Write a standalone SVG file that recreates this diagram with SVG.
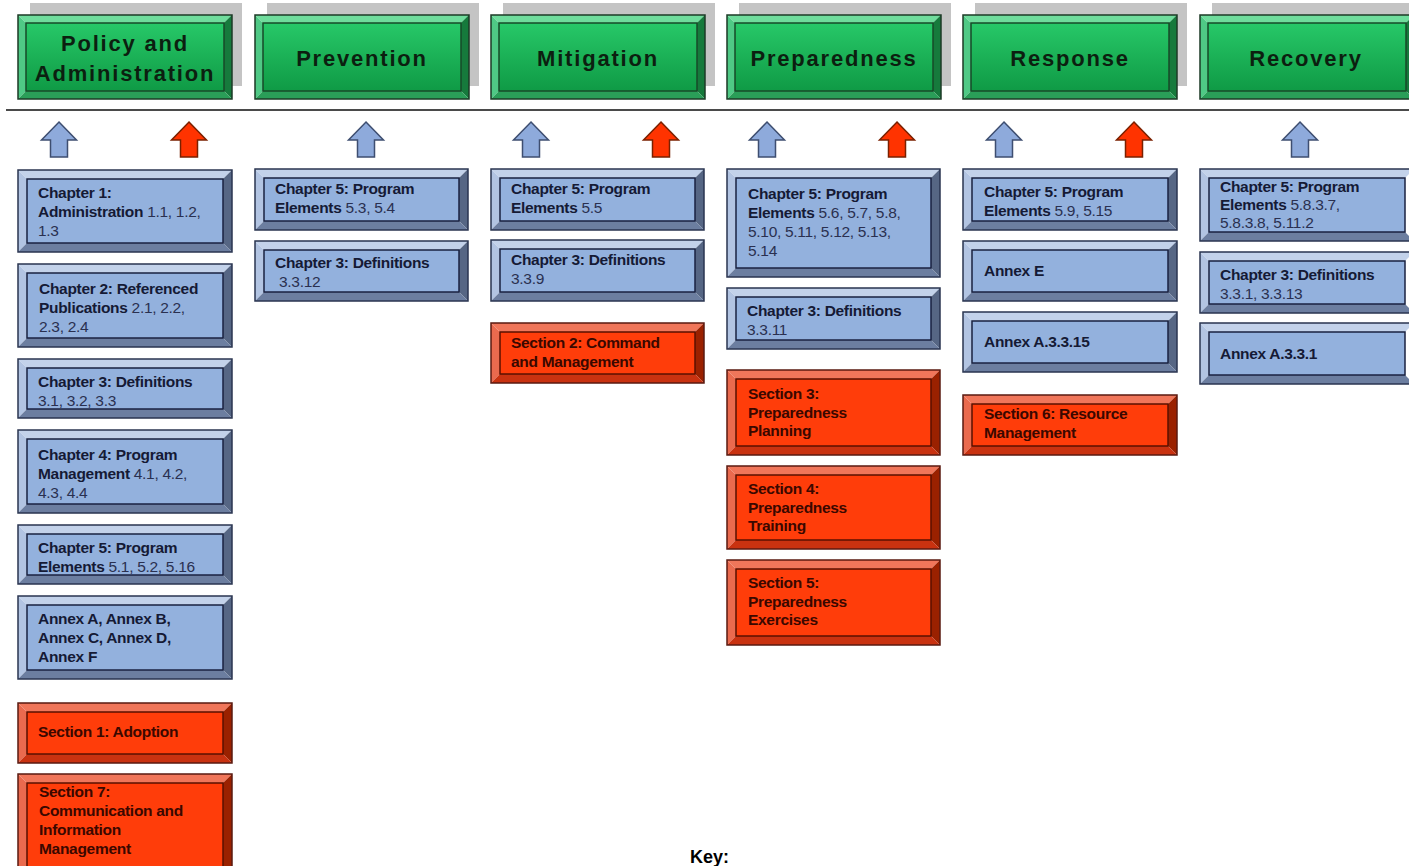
<svg xmlns="http://www.w3.org/2000/svg" width="1409" height="866" viewBox="0 0 1409 866">
<defs>
<linearGradient id="gface" x1="0" y1="0" x2="0" y2="1">
<stop offset="0" stop-color="#27c868"/>
<stop offset="1" stop-color="#0f9a45"/>
</linearGradient>
</defs>
<style>
.shadow{fill:#c4c4c4}
.g-face{fill:url(#gface);stroke:#174a28;stroke-width:1.5}
.g-t{fill:#6fdc9c}.g-l{fill:#4fc985}.g-r{fill:#167a3c}.g-b{fill:#2a9e58}
.g-out{fill:none;stroke:#1c3a26;stroke-width:1.5}
.b-face{fill:#93b1dd;stroke:#1a2240;stroke-width:1.5}
.b-t{fill:#c3d2ea}.b-l{fill:#b2c4e2}.b-r{fill:#566684}.b-b{fill:#6c7ea0}
.b-out{fill:none;stroke:#2a3550;stroke-width:1.5}
.r-face{fill:#ff3d0a;stroke:#5a1000;stroke-width:1.5}
.r-t{fill:#f0765a}.r-l{fill:#ea6a4e}.r-r{fill:#9a2100}.r-b{fill:#c93210}
.r-out{fill:none;stroke:#5a1a10;stroke-width:1.5}
.hdr{font-family:"Liberation Sans",Arial,sans-serif;font-weight:bold;font-size:22px;letter-spacing:1.8px;fill:#0c1f10;text-anchor:middle}
.txt{font-family:"Liberation Sans",Arial,sans-serif;font-weight:bold;font-size:15.5px;fill:#151a35;letter-spacing:-0.3px}
.rtxt{font-family:"Liberation Sans",Arial,sans-serif;font-weight:bold;font-size:15.5px;fill:#3a0800;letter-spacing:-0.3px}
.n{font-weight:normal;fill:#2a3050}
.up-b{fill:#8eaadb;stroke:#3e4e70;stroke-width:1.5}
.up-r{fill:#ff3300;stroke:#7a2000;stroke-width:1.5}
.rule{stroke:#4a4a4a;stroke-width:2}
.key{font-family:"Liberation Sans",Arial,sans-serif;font-weight:bold;font-size:18px;fill:#000}
</style>
<rect width="1409" height="866" fill="#ffffff"/>

<!-- header shadows -->
<g id="shadows">
<rect class="shadow" x="30" y="3" width="212" height="83"/>
<rect class="shadow" x="267" y="3" width="212" height="83"/>
<rect class="shadow" x="503" y="3" width="212" height="83"/>
<rect class="shadow" x="739" y="3" width="212" height="83"/>
<rect class="shadow" x="975" y="3" width="212" height="83"/>
<rect class="shadow" x="1212" y="3" width="212" height="83"/>
</g>

<!-- headers -->
<g id="h-policy">
<polygon class="g-t" points="18,15 232,15 224,23 26,23"/>
<polygon class="g-l" points="18,15 26,23 26,91 18,99"/>
<polygon class="g-r" points="232,15 232,99 224,91 224,23"/>
<polygon class="g-b" points="18,99 232,99 224,91 26,91"/>
<rect class="g-face" x="26" y="23" width="198" height="68"/>
<rect class="g-out" x="18" y="15" width="214" height="84"/>
<text class="hdr" x="125" y="51">Policy and</text>
<text class="hdr" x="125" y="81">Administration</text>
</g>
<g id="h-prevention">
<polygon class="g-t" points="255,15 469,15 461,23 263,23"/>
<polygon class="g-l" points="255,15 263,23 263,91 255,99"/>
<polygon class="g-r" points="469,15 469,99 461,91 461,23"/>
<polygon class="g-b" points="255,99 469,99 461,91 263,91"/>
<rect class="g-face" x="263" y="23" width="198" height="68"/>
<rect class="g-out" x="255" y="15" width="214" height="84"/>
<text class="hdr" x="362" y="66">Prevention</text>
</g>
<g id="h-mitigation">
<polygon class="g-t" points="491,15 705,15 697,23 499,23"/>
<polygon class="g-l" points="491,15 499,23 499,91 491,99"/>
<polygon class="g-r" points="705,15 705,99 697,91 697,23"/>
<polygon class="g-b" points="491,99 705,99 697,91 499,91"/>
<rect class="g-face" x="499" y="23" width="198" height="68"/>
<rect class="g-out" x="491" y="15" width="214" height="84"/>
<text class="hdr" x="598" y="66">Mitigation</text>
</g>
<g id="h-preparedness">
<polygon class="g-t" points="727,15 941,15 933,23 735,23"/>
<polygon class="g-l" points="727,15 735,23 735,91 727,99"/>
<polygon class="g-r" points="941,15 941,99 933,91 933,23"/>
<polygon class="g-b" points="727,99 941,99 933,91 735,91"/>
<rect class="g-face" x="735" y="23" width="198" height="68"/>
<rect class="g-out" x="727" y="15" width="214" height="84"/>
<text class="hdr" x="834" y="66">Preparedness</text>
</g>
<g id="h-response">
<polygon class="g-t" points="963,15 1177,15 1169,23 971,23"/>
<polygon class="g-l" points="963,15 971,23 971,91 963,99"/>
<polygon class="g-r" points="1177,15 1177,99 1169,91 1169,23"/>
<polygon class="g-b" points="963,99 1177,99 1169,91 971,91"/>
<rect class="g-face" x="971" y="23" width="198" height="68"/>
<rect class="g-out" x="963" y="15" width="214" height="84"/>
<text class="hdr" x="1070" y="66">Response</text>
</g>
<g id="h-recovery">
<polygon class="g-t" points="1200,15 1414,15 1406,23 1208,23"/>
<polygon class="g-l" points="1200,15 1208,23 1208,91 1200,99"/>
<polygon class="g-r" points="1414,15 1414,99 1406,91 1406,23"/>
<polygon class="g-b" points="1200,99 1414,99 1406,91 1208,91"/>
<rect class="g-face" x="1208" y="23" width="198" height="68"/>
<rect class="g-out" x="1200" y="15" width="214" height="84"/>
<text class="hdr" x="1306" y="66">Recovery</text>
</g>

<g id="connectors">
<line class="rule" x1="6" y1="110" x2="1409" y2="110"/>
<polygon class="up-b" points="59,122 76.5,140 67.5,140 67.5,157 50.5,157 50.5,140 41.5,140"/>
<polygon class="up-r" points="189,122 206.5,140 197.5,140 197.5,157 180.5,157 180.5,140 171.5,140"/>
<polygon class="up-b" points="366,122 383.5,140 374.5,140 374.5,157 357.5,157 357.5,140 348.5,140"/>
<polygon class="up-b" points="531,122 548.5,140 539.5,140 539.5,157 522.5,157 522.5,140 513.5,140"/>
<polygon class="up-r" points="661,122 678.5,140 669.5,140 669.5,157 652.5,157 652.5,140 643.5,140"/>
<polygon class="up-b" points="767,122 784.5,140 775.5,140 775.5,157 758.5,157 758.5,140 749.5,140"/>
<polygon class="up-r" points="897,122 914.5,140 905.5,140 905.5,157 888.5,157 888.5,140 879.5,140"/>
<polygon class="up-b" points="1004,122 1021.5,140 1012.5,140 1012.5,157 995.5,157 995.5,140 986.5,140"/>
<polygon class="up-r" points="1134,122 1151.5,140 1142.5,140 1142.5,157 1125.5,157 1125.5,140 1116.5,140"/>
<polygon class="up-b" points="1300,122 1317.5,140 1308.5,140 1308.5,157 1291.5,157 1291.5,140 1282.5,140"/>
</g>

<!-- Column 1 -->
<g id="c1-ch1">
<polygon class="b-t" points="18,170 232,170 223,179 27,179"/>
<polygon class="b-l" points="18,170 27,179 27,243 18,252"/>
<polygon class="b-r" points="232,170 232,252 223,243 223,179"/>
<polygon class="b-b" points="18,252 232,252 223,243 27,243"/>
<rect class="b-face" x="27" y="179" width="196" height="64"/>
<rect class="b-out" x="18" y="170" width="214" height="82"/>
<text class="txt" x="38" y="198">Chapter 1:</text>
<text class="txt" x="38" y="217">Administration <tspan class="n">1.1, 1.2,</tspan></text>
<text class="txt n" x="38" y="236">1.3</text>
</g>
<g id="c1-ch2">
<polygon class="b-t" points="18,264 232,264 223,273 27,273"/>
<polygon class="b-l" points="18,264 27,273 27,338 18,347"/>
<polygon class="b-r" points="232,264 232,347 223,338 223,273"/>
<polygon class="b-b" points="18,347 232,347 223,338 27,338"/>
<rect class="b-face" x="27" y="273" width="196" height="65"/>
<rect class="b-out" x="18" y="264" width="214" height="83"/>
<text class="txt" x="39" y="294">Chapter 2: Referenced</text>
<text class="txt" x="39" y="313">Publications <tspan class="n">2.1, 2.2,</tspan></text>
<text class="txt n" x="39" y="332">2.3, 2.4</text>
</g>
<g id="c1-ch3">
<polygon class="b-t" points="18,359 232,359 223,368 27,368"/>
<polygon class="b-l" points="18,359 27,368 27,409 18,418"/>
<polygon class="b-r" points="232,359 232,418 223,409 223,368"/>
<polygon class="b-b" points="18,418 232,418 223,409 27,409"/>
<rect class="b-face" x="27" y="368" width="196" height="41"/>
<rect class="b-out" x="18" y="359" width="214" height="59"/>
<text class="txt" x="38" y="387">Chapter 3: Definitions</text>
<text class="txt n" x="38" y="406">3.1, 3.2, 3.3</text>
</g>
<g id="c1-ch4">
<polygon class="b-t" points="18,430 232,430 223,439 27,439"/>
<polygon class="b-l" points="18,430 27,439 27,504 18,513"/>
<polygon class="b-r" points="232,430 232,513 223,504 223,439"/>
<polygon class="b-b" points="18,513 232,513 223,504 27,504"/>
<rect class="b-face" x="27" y="439" width="196" height="65"/>
<rect class="b-out" x="18" y="430" width="214" height="83"/>
<text class="txt" x="38" y="460">Chapter 4: Program</text>
<text class="txt" x="38" y="479">Management <tspan class="n">4.1, 4.2,</tspan></text>
<text class="txt n" x="38" y="498">4.3, 4.4</text>
</g>
<g id="c1-ch5">
<polygon class="b-t" points="18,525 232,525 223,534 27,534"/>
<polygon class="b-l" points="18,525 27,534 27,575 18,584"/>
<polygon class="b-r" points="232,525 232,584 223,575 223,534"/>
<polygon class="b-b" points="18,584 232,584 223,575 27,575"/>
<rect class="b-face" x="27" y="534" width="196" height="41"/>
<rect class="b-out" x="18" y="525" width="214" height="59"/>
<text class="txt" x="38" y="553">Chapter 5: Program</text>
<text class="txt" x="38" y="572">Elements <tspan class="n">5.1, 5.2, 5.16</tspan></text>
</g>
<g id="c1-annex">
<polygon class="b-t" points="18,596 232,596 223,605 27,605"/>
<polygon class="b-l" points="18,596 27,605 27,670 18,679"/>
<polygon class="b-r" points="232,596 232,679 223,670 223,605"/>
<polygon class="b-b" points="18,679 232,679 223,670 27,670"/>
<rect class="b-face" x="27" y="605" width="196" height="65"/>
<rect class="b-out" x="18" y="596" width="214" height="83"/>
<text class="txt" x="38" y="624">Annex A, Annex B,</text>
<text class="txt" x="38" y="643">Annex C, Annex D,</text>
<text class="txt" x="38" y="662">Annex F</text>
</g>
<g id="c1-sec1">
<polygon class="r-t" points="18,703 232,703 223,712 27,712"/>
<polygon class="r-l" points="18,703 27,712 27,754 18,763"/>
<polygon class="r-r" points="232,703 232,763 223,754 223,712"/>
<polygon class="r-b" points="18,763 232,763 223,754 27,754"/>
<rect class="r-face" x="27" y="712" width="196" height="42"/>
<rect class="r-out" x="18" y="703" width="214" height="60"/>
<text class="rtxt" x="38" y="737">Section 1: Adoption</text>
</g>
<g id="c1-sec7">
<polygon class="r-t" points="18,774 232,774 223,783 27,783"/>
<polygon class="r-l" points="18,774 27,783 27,871 18,880"/>
<polygon class="r-r" points="232,774 232,880 223,871 223,783"/>
<rect class="r-face" x="27" y="783" width="196" height="88"/>
<rect class="r-out" x="18" y="774" width="214" height="106"/>
<text class="rtxt" x="39" y="797">Section 7:</text>
<text class="rtxt" x="39" y="816">Communication and</text>
<text class="rtxt" x="39" y="835">Information</text>
<text class="rtxt" x="39" y="854">Management</text>
</g>

<!-- Column 2 -->
<g id="c2-ch5">
<polygon class="b-t" points="255,169 468,169 459,178 264,178"/>
<polygon class="b-l" points="255,169 264,178 264,221 255,230"/>
<polygon class="b-r" points="468,169 468,230 459,221 459,178"/>
<polygon class="b-b" points="255,230 468,230 459,221 264,221"/>
<rect class="b-face" x="264" y="178" width="195" height="43"/>
<rect class="b-out" x="255" y="169" width="213" height="61"/>
<text class="txt" x="275" y="194">Chapter 5: Program</text>
<text class="txt" x="275" y="213">Elements <tspan class="n">5.3, 5.4</tspan></text>
</g>
<g id="c2-ch3">
<polygon class="b-t" points="255,241 468,241 459,250 264,250"/>
<polygon class="b-l" points="255,241 264,250 264,292 255,301"/>
<polygon class="b-r" points="468,241 468,301 459,292 459,250"/>
<polygon class="b-b" points="255,301 468,301 459,292 264,292"/>
<rect class="b-face" x="264" y="250" width="195" height="42"/>
<rect class="b-out" x="255" y="241" width="213" height="60"/>
<text class="txt" x="275" y="268">Chapter 3: Definitions</text>
<text class="txt n" x="279" y="287">3.3.12</text>
</g>

<!-- Column 3 -->
<g id="c3-ch5">
<polygon class="b-t" points="491,169 704,169 695,178 500,178"/>
<polygon class="b-l" points="491,169 500,178 500,221 491,230"/>
<polygon class="b-r" points="704,169 704,230 695,221 695,178"/>
<polygon class="b-b" points="491,230 704,230 695,221 500,221"/>
<rect class="b-face" x="500" y="178" width="195" height="43"/>
<rect class="b-out" x="491" y="169" width="213" height="61"/>
<text class="txt" x="511" y="194">Chapter 5: Program</text>
<text class="txt" x="511" y="213">Elements <tspan class="n">5.5</tspan></text>
</g>
<g id="c3-ch3">
<polygon class="b-t" points="491,240 704,240 695,249 500,249"/>
<polygon class="b-l" points="491,240 500,249 500,292 491,301"/>
<polygon class="b-r" points="704,240 704,301 695,292 695,249"/>
<polygon class="b-b" points="491,301 704,301 695,292 500,292"/>
<rect class="b-face" x="500" y="249" width="195" height="43"/>
<rect class="b-out" x="491" y="240" width="213" height="61"/>
<text class="txt" x="511" y="265">Chapter 3: Definitions</text>
<text class="txt n" x="511" y="284">3.3.9</text>
</g>
<g id="c3-sec2">
<polygon class="r-t" points="491,323 704,323 695,332 500,332"/>
<polygon class="r-l" points="491,323 500,332 500,374 491,383"/>
<polygon class="r-r" points="704,323 704,383 695,374 695,332"/>
<polygon class="r-b" points="491,383 704,383 695,374 500,374"/>
<rect class="r-face" x="500" y="332" width="195" height="42"/>
<rect class="r-out" x="491" y="323" width="213" height="60"/>
<text class="rtxt" x="511" y="348">Section 2: Command</text>
<text class="rtxt" x="511" y="367">and Management</text>
</g>

<!-- Column 4 -->
<g id="c4-ch5">
<polygon class="b-t" points="727,169 940,169 931,178 736,178"/>
<polygon class="b-l" points="727,169 736,178 736,268 727,277"/>
<polygon class="b-r" points="940,169 940,277 931,268 931,178"/>
<polygon class="b-b" points="727,277 940,277 931,268 736,268"/>
<rect class="b-face" x="736" y="178" width="195" height="90"/>
<rect class="b-out" x="727" y="169" width="213" height="108"/>
<text class="txt" x="748" y="199">Chapter 5: Program</text>
<text class="txt" x="748" y="218">Elements <tspan class="n">5.6, 5.7, 5.8,</tspan></text>
<text class="txt n" x="748" y="237">5.10, 5.11, 5.12, 5.13,</text>
<text class="txt n" x="748" y="256">5.14</text>
</g>
<g id="c4-ch3">
<polygon class="b-t" points="727,288 940,288 931,297 736,297"/>
<polygon class="b-l" points="727,288 736,297 736,340 727,349"/>
<polygon class="b-r" points="940,288 940,349 931,340 931,297"/>
<polygon class="b-b" points="727,349 940,349 931,340 736,340"/>
<rect class="b-face" x="736" y="297" width="195" height="43"/>
<rect class="b-out" x="727" y="288" width="213" height="61"/>
<text class="txt" x="747" y="316">Chapter 3: Definitions</text>
<text class="txt n" x="747" y="335">3.3.11</text>
</g>
<g id="c4-sec3">
<polygon class="r-t" points="727,370 940,370 931,379 736,379"/>
<polygon class="r-l" points="727,370 736,379 736,446 727,455"/>
<polygon class="r-r" points="940,370 940,455 931,446 931,379"/>
<polygon class="r-b" points="727,455 940,455 931,446 736,446"/>
<rect class="r-face" x="736" y="379" width="195" height="67"/>
<rect class="r-out" x="727" y="370" width="213" height="85"/>
<text class="rtxt" x="748" y="399">Section 3:</text>
<text class="rtxt" x="748" y="418">Preparedness</text>
<text class="rtxt" x="748" y="436">Planning</text>
</g>
<g id="c4-sec4">
<polygon class="r-t" points="727,466 940,466 931,475 736,475"/>
<polygon class="r-l" points="727,466 736,475 736,540 727,549"/>
<polygon class="r-r" points="940,466 940,549 931,540 931,475"/>
<polygon class="r-b" points="727,549 940,549 931,540 736,540"/>
<rect class="r-face" x="736" y="475" width="195" height="65"/>
<rect class="r-out" x="727" y="466" width="213" height="83"/>
<text class="rtxt" x="748" y="494">Section 4:</text>
<text class="rtxt" x="748" y="513">Preparedness</text>
<text class="rtxt" x="748" y="531">Training</text>
</g>
<g id="c4-sec5">
<polygon class="r-t" points="727,560 940,560 931,569 736,569"/>
<polygon class="r-l" points="727,560 736,569 736,636 727,645"/>
<polygon class="r-r" points="940,560 940,645 931,636 931,569"/>
<polygon class="r-b" points="727,645 940,645 931,636 736,636"/>
<rect class="r-face" x="736" y="569" width="195" height="67"/>
<rect class="r-out" x="727" y="560" width="213" height="85"/>
<text class="rtxt" x="748" y="588">Section 5:</text>
<text class="rtxt" x="748" y="607">Preparedness</text>
<text class="rtxt" x="748" y="625">Exercises</text>
</g>

<!-- Column 5 -->
<g id="c5-ch5">
<polygon class="b-t" points="963,169 1177,169 1168,178 972,178"/>
<polygon class="b-l" points="963,169 972,178 972,221 963,230"/>
<polygon class="b-r" points="1177,169 1177,230 1168,221 1168,178"/>
<polygon class="b-b" points="963,230 1177,230 1168,221 972,221"/>
<rect class="b-face" x="972" y="178" width="196" height="43"/>
<rect class="b-out" x="963" y="169" width="214" height="61"/>
<text class="txt" x="984" y="197">Chapter 5: Program</text>
<text class="txt" x="984" y="216">Elements <tspan class="n">5.9, 5.15</tspan></text>
</g>
<g id="c5-annexe">
<polygon class="b-t" points="963,241 1177,241 1168,250 972,250"/>
<polygon class="b-l" points="963,241 972,250 972,292 963,301"/>
<polygon class="b-r" points="1177,241 1177,301 1168,292 1168,250"/>
<polygon class="b-b" points="963,301 1177,301 1168,292 972,292"/>
<rect class="b-face" x="972" y="250" width="196" height="42"/>
<rect class="b-out" x="963" y="241" width="214" height="60"/>
<text class="txt" x="984" y="276">Annex E</text>
</g>
<g id="c5-annexa">
<polygon class="b-t" points="963,312 1177,312 1168,321 972,321"/>
<polygon class="b-l" points="963,312 972,321 972,363 963,372"/>
<polygon class="b-r" points="1177,312 1177,372 1168,363 1168,321"/>
<polygon class="b-b" points="963,372 1177,372 1168,363 972,363"/>
<rect class="b-face" x="972" y="321" width="196" height="42"/>
<rect class="b-out" x="963" y="312" width="214" height="60"/>
<text class="txt" x="984" y="347">Annex A.3.3.15</text>
</g>
<g id="c5-sec6">
<polygon class="r-t" points="963,395 1177,395 1168,404 972,404"/>
<polygon class="r-l" points="963,395 972,404 972,446 963,455"/>
<polygon class="r-r" points="1177,395 1177,455 1168,446 1168,404"/>
<polygon class="r-b" points="963,455 1177,455 1168,446 972,446"/>
<rect class="r-face" x="972" y="404" width="196" height="42"/>
<rect class="r-out" x="963" y="395" width="214" height="60"/>
<text class="rtxt" x="984" y="419">Section 6: Resource</text>
<text class="rtxt" x="984" y="438">Management</text>
</g>

<!-- Column 6 -->
<g id="c6-ch5">
<polygon class="b-t" points="1200,169 1414,169 1405,178 1209,178"/>
<polygon class="b-l" points="1200,169 1209,178 1209,232 1200,241"/>
<polygon class="b-b" points="1200,241 1414,241 1405,232 1209,232"/>
<rect class="b-face" x="1209" y="178" width="196" height="54"/>
<rect class="b-out" x="1200" y="169" width="214" height="72"/>
<text class="txt" x="1220" y="192">Chapter 5: Program</text>
<text class="txt" x="1220" y="210">Elements <tspan class="n">5.8.3.7,</tspan></text>
<text class="txt n" x="1220" y="228">5.8.3.8, 5.11.2</text>
</g>
<g id="c6-ch3">
<polygon class="b-t" points="1200,252 1414,252 1405,261 1209,261"/>
<polygon class="b-l" points="1200,252 1209,261 1209,304 1200,313"/>
<polygon class="b-b" points="1200,313 1414,313 1405,304 1209,304"/>
<rect class="b-face" x="1209" y="261" width="196" height="43"/>
<rect class="b-out" x="1200" y="252" width="214" height="61"/>
<text class="txt" x="1220" y="280">Chapter 3: Definitions</text>
<text class="txt n" x="1220" y="299">3.3.1, 3.3.13</text>
</g>
<g id="c6-annexa">
<polygon class="b-t" points="1200,323 1414,323 1405,332 1209,332"/>
<polygon class="b-l" points="1200,323 1209,332 1209,375 1200,384"/>
<polygon class="b-b" points="1200,384 1414,384 1405,375 1209,375"/>
<rect class="b-face" x="1209" y="332" width="196" height="43"/>
<rect class="b-out" x="1200" y="323" width="214" height="61"/>
<text class="txt" x="1220" y="359">Annex A.3.3.1</text>
</g>

<g id="key">
<text class="key" x="690" y="863">Key:</text>
</g>
</svg>
